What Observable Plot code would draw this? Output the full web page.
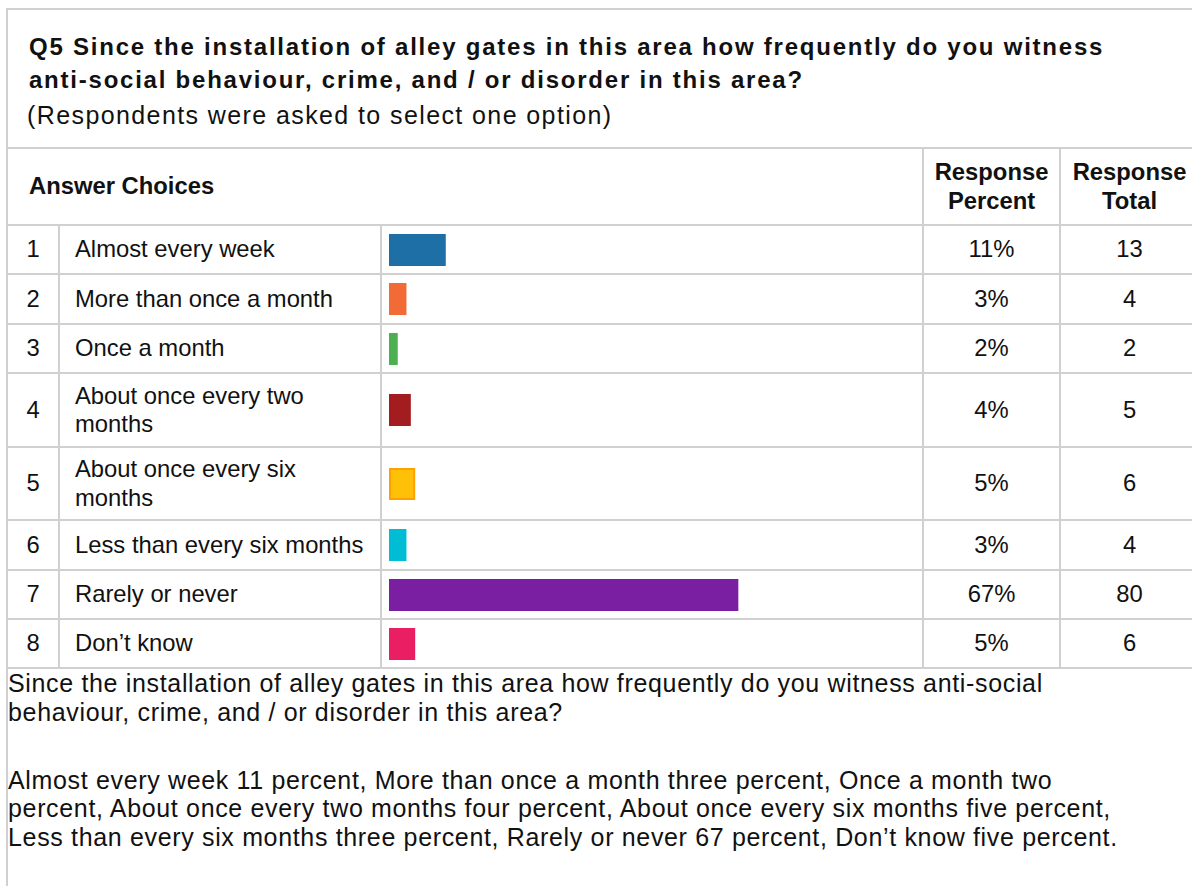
<!DOCTYPE html>
<html>
<head>
<meta charset="utf-8">
<script src="https://cdn.jsdelivr.net/npm/d3@7"></script>
<script src="https://cdn.jsdelivr.net/npm/@observablehq/plot@0.6"></script>
<style>
  html, body { margin: 0; padding: 0; background: #fff; }
  body {
    font-family: "Liberation Sans", Arial, sans-serif;
    color: #111;
    width: 1192px; height: 886px; overflow: hidden; position: relative;
  }
  #frame {
    position: absolute; left: 6px; top: 8px; width: 1200px; height: 900px;
    border-left: 2px solid #d0d0d0; border-top: 2px solid #d0d0d0;
  }
  #title {
    position: absolute; left: 29px; top: 30px; width: 1100px;
    font-size: 24px; line-height: 33px; font-weight: bold; letter-spacing: 1.77px;
  }
  #subtitle {
    position: absolute; left: 27px; top: 99px;
    font-size: 25px; line-height: 33px; letter-spacing: 1.4px;
  }
  table {
    position: absolute; left: 6px; top: 147px;
    border-collapse: collapse; table-layout: fixed; width: 1192px;
    font-size: 23.8px; line-height: 28.5px;
  }
  td, th { border: 2px solid #d0d0d0; padding: 0; vertical-align: middle; }
  th { font-weight: bold; text-align: center; }
  th.ans { text-align: left; padding-left: 21px; }
  td.num { text-align: center; }
  td.lab { padding-left: 15px; padding-right: 12px; }
  td.bar svg { display: block; }
  td.pct, td.tot { text-align: center; }
  #summary {
    position: absolute; left: 8px; top: 669px; width: 1128px;
    font-size: 25px; line-height: 28.8px; letter-spacing: 0.66px;
  }
  #summary p { margin: 0 0 39px 0; }
</style>
</head>
<body>
<div id="frame"></div>
<div id="title">Q5 Since the installation of alley gates in this area how frequently do you witness anti-social behaviour, crime, and / or disorder in this area?</div>
<div id="subtitle">(Respondents were asked to select one option)</div>
<table id="tbl">
  <colgroup>
    <col style="width:52px"><col style="width:322px"><col style="width:542px"><col style="width:137px"><col style="width:139px">
  </colgroup>
  <thead>
    <tr style="height:77px">
      <th class="ans" colspan="3">Answer Choices</th>
      <th>Response<br>Percent</th>
      <th>Response<br>Total</th>
    </tr>
  </thead>
  <tbody id="rows"></tbody>
</table>
<div id="summary">
  <p>Since the installation of alley gates in this area how frequently do you witness anti-social behaviour, crime, and / or disorder in this area?</p>
  <p>Almost every week 11 percent, More than once a month three percent, Once a month two percent, About once every two months four percent, About once every six months five percent, Less than every six months three percent, Rarely or never 67 percent, Don’t know five percent.</p>
</div>
<script>
// ---- data ----
const choices = [
  "Almost every week",
  "More than once a month",
  "Once a month",
  "About once every two months",
  "About once every six months",
  "Less than every six months",
  "Rarely or never",
  "Don’t know"
];
const percents = [11, 3, 2, 4, 5, 3, 67, 5];
const totals = [13, 4, 2, 5, 6, 4, 80, 6];
const barColors = ["#1d6fa5", "#f26a35", "#4caf50", "#a31c20", "#ffc107", "#00bcd4", "#7b1fa2", "#e91e63"];
const barStrokes = [null, null, null, null, "#ffa000", null, null, null];

// ---- build ----
const rowHeights = [49, 50, 49, 74, 73, 50, 49, 49];
const respondents = d3.sum(totals);
const data = choices.map((c, i) => ({
  n: i + 1, choice: c, pct: percents[i], total: totals[i],
  fill: barColors[i], stroke: barStrokes[i]
}));

const tbody = document.getElementById("rows");
data.forEach((d, i) => {
  const tr = document.createElement("tr");
  tr.style.height = rowHeights[i] + "px";
  const tdN = document.createElement("td"); tdN.className = "num"; tdN.textContent = d.n;
  const tdL = document.createElement("td"); tdL.className = "lab"; tdL.textContent = d.choice;
  const tdB = document.createElement("td"); tdB.className = "bar";
  const tdP = document.createElement("td"); tdP.className = "pct"; tdP.textContent = d.pct + "%";
  const tdT = document.createElement("td"); tdT.className = "tot"; tdT.textContent = d.total;
  const chart = Plot.plot({
    width: 540,
    height: 32,
    marginLeft: 7,
    marginRight: 9,
    marginTop: 0,
    marginBottom: 0,
    x: { domain: [0, respondents], axis: null },
    marks: [
      Plot.barX([d], {
        x1: 0,
        x2: "total",
        fill: "fill",
        stroke: d.stroke ? "stroke" : null,
        strokeWidth: 2,
        inset: d.stroke ? 1 : 0
      })
    ]
  });
  tdB.appendChild(chart);
  tr.append(tdN, tdL, tdB, tdP, tdT);
  tbody.appendChild(tr);
});
</script>
</body>
</html>
